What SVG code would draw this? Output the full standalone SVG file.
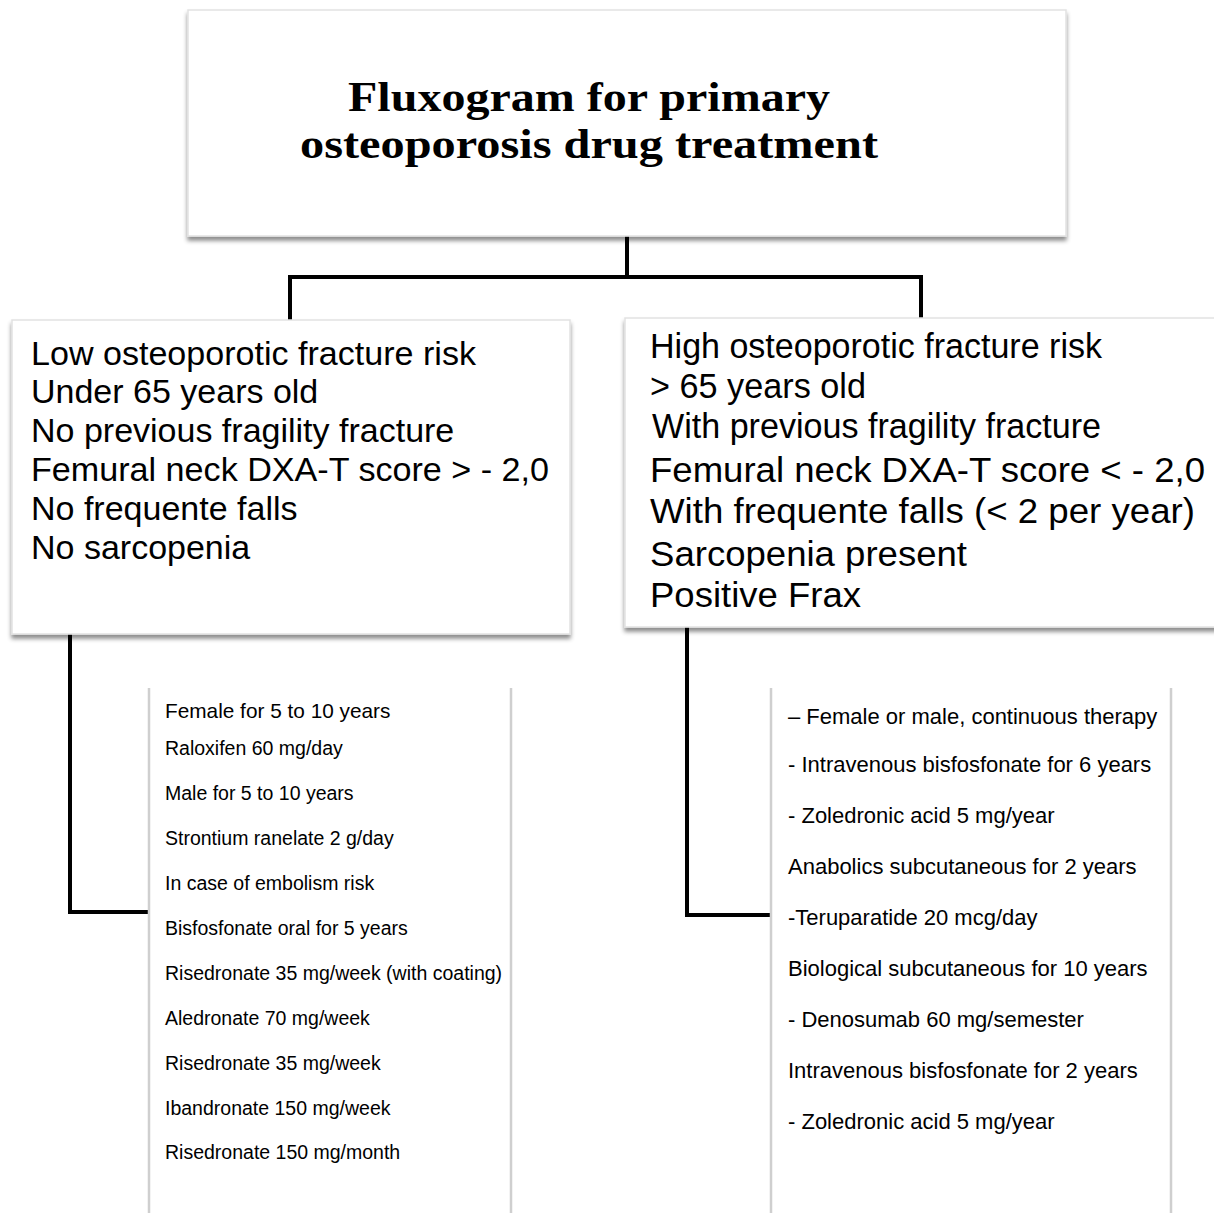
<svg xmlns="http://www.w3.org/2000/svg" width="1214" height="1213" viewBox="0 0 1214 1213">
<defs>
<filter id="sh" x="-5%" y="-5%" width="110%" height="115%">
<feDropShadow dx="0" dy="4" stdDeviation="2" flood-color="#000" flood-opacity="0.45"/>
</filter>
<style>
.box{fill:#fff;stroke:#e2e2e2;stroke-width:1.5}
.side{stroke:#cfcfcf;stroke-width:2.5;fill:none}
.conn{stroke:#000;stroke-width:4;fill:none}
.title{font-family:"Liberation Serif","Times New Roman",serif;font-weight:bold;font-size:42px;fill:#000}
.mid{font-family:"Liberation Sans",Arial,sans-serif;font-size:34px;fill:#000}
.midr{font-family:"Liberation Sans",Arial,sans-serif;font-size:35.5px;fill:#000}
.ls{font-family:"Liberation Sans",Arial,sans-serif;font-size:19.5px;fill:#000}
.rs{font-family:"Liberation Sans",Arial,sans-serif;font-size:22px;fill:#000}
</style>
</defs>
<rect width="1214" height="1213" fill="#fff"/>
<g id="connectors">
<path class="conn" d="M627 236 V277 M290 322 V277 H921 V322"/>
<path class="conn" d="M70 634 V912 H151"/>
<path class="conn" d="M687 627 V915 H772"/>
</g>
<g id="title-box">
<rect class="box" x="188" y="10" width="878" height="226" filter="url(#sh)"/>
<text class="title"><tspan x="348" y="111" textLength="482" lengthAdjust="spacingAndGlyphs">Fluxogram for primary</tspan><tspan x="300" y="158" textLength="578" lengthAdjust="spacingAndGlyphs">osteoporosis drug treatment</tspan></text>
</g>
<g id="low-risk">
<rect class="box" x="12" y="320" width="558" height="314" filter="url(#sh)"/>
<text class="mid" x="31" y="365" textLength="445" lengthAdjust="spacingAndGlyphs">Low osteoporotic fracture risk</text>
<text class="mid" x="31" y="403">Under 65 years old</text>
<text class="mid" x="31" y="442">No previous fragility fracture</text>
<text class="mid" x="31" y="481" textLength="518" lengthAdjust="spacingAndGlyphs">Femural neck DXA-T score &gt; - 2,0</text>
<text class="mid" x="31" y="520">No frequente falls</text>
<text class="mid" x="31" y="559">No sarcopenia</text>
</g>
<g id="high-risk">
<rect class="box" x="625" y="318" width="600" height="309" filter="url(#sh)"/>
<text class="midr" x="650" y="358" textLength="452" lengthAdjust="spacingAndGlyphs">High osteoporotic fracture risk</text>
<text class="midr" x="650" y="398" textLength="216" lengthAdjust="spacingAndGlyphs">&gt; 65 years old</text>
<text class="midr" x="652" y="438" textLength="449" lengthAdjust="spacingAndGlyphs">With previous fragility fracture</text>
<text class="midr" x="650" y="482" textLength="555" lengthAdjust="spacingAndGlyphs">Femural neck DXA-T score &lt; - 2,0</text>
<text class="midr" x="650" y="523" textLength="545" lengthAdjust="spacingAndGlyphs">With frequente falls (&lt; 2 per year)</text>
<text class="midr" x="650" y="566" textLength="317" lengthAdjust="spacingAndGlyphs">Sarcopenia present</text>
<text class="midr" x="650" y="607" textLength="211" lengthAdjust="spacingAndGlyphs">Positive Frax</text>
</g>
<g id="low-treatment">
<rect x="149" y="688" width="362" height="530" fill="#fff"/>
<path class="side" d="M149 688 V1213 M511 688 V1213"/>
<text class="ls" x="165" y="718" style="font-size:20.8px">Female for 5 to 10 years</text>
<text class="ls" x="165" y="755">Raloxifen 60 mg/day</text>
<text class="ls" x="165" y="800">Male for 5 to 10 years</text>
<text class="ls" x="165" y="845">Strontium ranelate 2 g/day</text>
<text class="ls" x="165" y="890">In case of embolism risk</text>
<text class="ls" x="165" y="935">Bisfosfonate oral for 5 years</text>
<text class="ls" x="165" y="980">Risedronate 35 mg/week (with coating)</text>
<text class="ls" x="165" y="1025">Aledronate 70 mg/week</text>
<text class="ls" x="165" y="1070">Risedronate 35 mg/week</text>
<text class="ls" x="165" y="1115">Ibandronate 150 mg/week</text>
<text class="ls" x="165" y="1159">Risedronate 150 mg/month</text>
</g>
<g id="high-treatment">
<rect x="771" y="688" width="400" height="530" fill="#fff"/>
<path class="side" d="M771 688 V1213 M1171 688 V1213"/>
<text class="rs" x="788" y="724">– Female or male, continuous therapy</text>
<text class="rs" x="788" y="772">- Intravenous bisfosfonate for 6 years</text>
<text class="rs" x="788" y="823">- Zoledronic acid 5 mg/year</text>
<text class="rs" x="788" y="874">Anabolics subcutaneous for 2 years</text>
<text class="rs" x="788" y="925">-Teruparatide 20 mcg/day</text>
<text class="rs" x="788" y="976">Biological subcutaneous for 10 years</text>
<text class="rs" x="788" y="1027">- Denosumab 60 mg/semester</text>
<text class="rs" x="788" y="1078">Intravenous bisfosfonate for 2 years</text>
<text class="rs" x="788" y="1129">- Zoledronic acid 5 mg/year</text>
</g>
</svg>
